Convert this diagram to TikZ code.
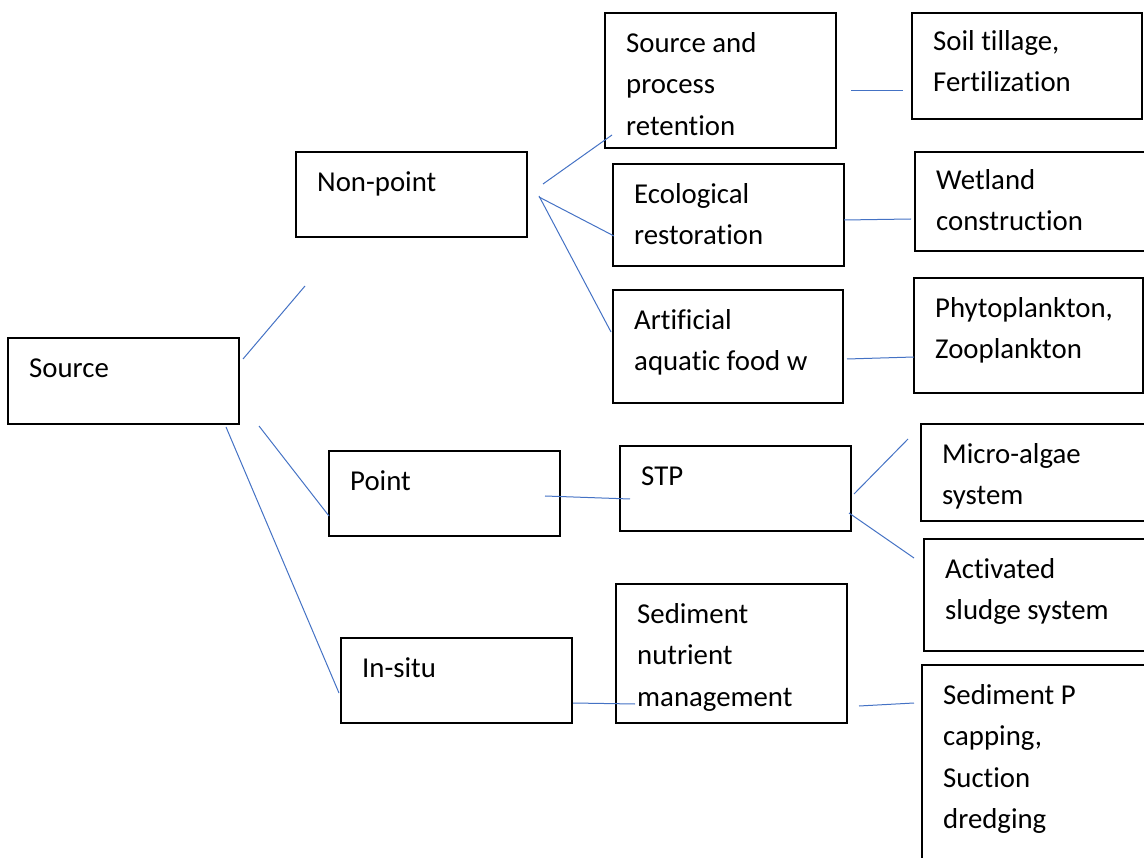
\documentclass[tikz,border=0pt]{standalone}
\usepackage{fontspec}
\setmainfont{Carlito}[Ligatures=NoCommon]
\usepackage{xcolor}
\definecolor{linkblue}{RGB}{68,114,196}

\begin{document}
\begin{tikzpicture}[x=1pt,y=-1pt,
    cell/.style={draw,line width=1.5pt,rectangle,anchor=north west,inner sep=0pt,outer sep=0pt},
    txt/.style={anchor=north west,align=left,inner sep=0pt,xshift=21pt,yshift=-9.95pt,
        font=\fontsize{28.8}{41.5}\selectfont},
    link/.style={draw=linkblue,line width=1pt}]
    \useasboundingbox (0,0) rectangle (1144,858);
    \clip (0,0) rectangle (1144,858);
    % first level
    \node[cell,minimum width=231pt,minimum height=86pt] (src) at (8,338) {};
    \node[txt] (srcT) at (src.north west) {\strut Source};
    % second level
    \node[cell,minimum width=231pt,minimum height=85pt] (np) at (296,152) {};
    \node[txt] (npT) at (np.north west) {\strut Non-point};
    \node[cell,minimum width=231pt,minimum height=85pt] (pt) at (329,451) {};
    \node[txt] (ptT) at (pt.north west) {\strut Point};
    \node[cell,minimum width=231pt,minimum height=85pt] (ins) at (341,638) {};
    \node[txt] (insT) at (ins.north west) {\strut In-situ};
    % third level
    \node[cell,minimum width=231pt,minimum height=135pt] (sapr) at (605,13) {};
    \node[txt] (saprT) at (sapr.north west) {\strut Source and\\process\\retention};
    \node[cell,minimum width=231pt,minimum height=102pt] (eco) at (613,164) {};
    \node[txt] (ecoT) at (eco.north west) {\strut Ecological\\restoration};
    \node[cell,minimum width=230pt,minimum height=113pt] (art) at (613,290) {};
    \node[txt] (artT) at (art.north west) {\strut Artificial\\aquatic food w};
    \node[cell,minimum width=231pt,minimum height=85pt] (stp) at (620,446) {};
    \node[txt] (stpT) at (stp.north west) {\strut STP};
    \node[cell,minimum width=231pt,minimum height=139pt] (sed) at (616,584) {};
    \node[txt] (sedT) at (sed.north west) {\strut Sediment\\nutrient\\management};
    % fourth level
    \node[cell,minimum width=230pt,minimum height=106pt] (soil) at (912,13) {};
    \node[txt] (soilT) at ([yshift=2pt]soil.north west) {\strut Soil tillage,\\Fertilization};
    \node[cell,minimum width=232pt,minimum height=99pt] (wet) at (915,152) {};
    \node[txt] (wetT) at ([yshift=2pt]wet.north west) {\strut Wetland\\construction};
    \node[cell,minimum width=229pt,minimum height=115pt] (phy) at (914,278) {};
    \node[txt] (phyT) at (phy.north west) {\strut Phytoplankton,\\Zooplankton};
    \node[cell,minimum width=230pt,minimum height=97pt] (mic) at (921,424) {};
    \node[txt] (micT) at (mic.north west) {\strut Micro-algae\\system};
    \node[cell,minimum width=230pt,minimum height=112pt] (act) at (924,539) {};
    \node[txt] (actT) at (act.north west) {\strut Activated\\sludge system};
    \node[cell,minimum width=230pt,minimum height=210pt] (sedp) at (922,665) {};
    \node[txt] (sedpT) at (sedp.north west) {\strut Sediment P\\capping,\\Suction\\dredging};
    % connectors
    \draw[link] ([shift={(4,21)}]src.north east) -- ([shift={(9,49)}]np.south west);
    \draw[link] ([shift={(20,2)}]src.south east) -- ([shift={(0,-20)}]pt.south west);
    \draw[link] ([shift={(-13,3)}]src.south east) -- ([shift={(-2,-30)}]ins.south west);
    \draw[link] ([shift={(16,32)}]np.north east) -- ([shift={(7,-13)}]sapr.south west);
    \draw[link] ([shift={(12,45)}]np.north east) -- ([shift={(1,72)}]eco.north west);
    \draw[link] ([shift={(12,44)}]np.north east) -- ([shift={(-2,42)}]art.north west);
    \draw[link] ([shift={(15,78)}]sapr.north east) -- ([shift={(-9,78)}]soil.north west);
    \draw[link] ([shift={(0,56)}]eco.north east) -- ([shift={(-4,67)}]wet.north west);
    \draw[link] ([shift={(4,69)}]art.north east) -- ([shift={(0,79)}]phy.north west);
    \draw[link] ([shift={(-15,45)}]pt.north east) -- ([shift={(10,53)}]stp.north west);
    \draw[link] ([shift={(3,48)}]stp.north east) -- ([shift={(-13,15)}]mic.north west);
    \draw[link] ([shift={(-2,67)}]stp.north east) -- ([shift={(-10,19)}]act.north west);
    \draw[link] ([shift={(1,65)}]ins.north east) -- ([shift={(19,120)}]sed.north west);
    \draw[link] ([shift={(12,122)}]sed.north east) -- ([shift={(-8,38)}]sedp.north west);
\end{tikzpicture}
\end{document}
